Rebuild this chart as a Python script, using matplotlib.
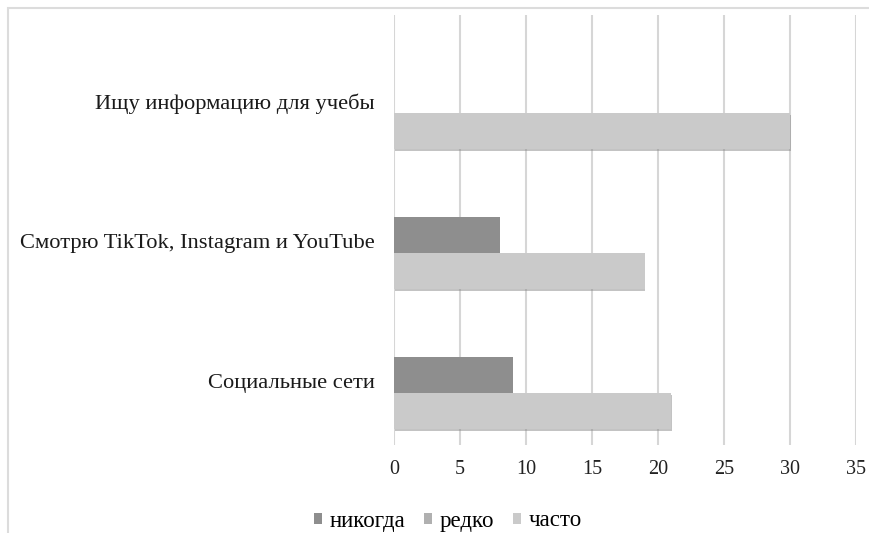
import matplotlib
matplotlib.use("Agg")
import matplotlib.pyplot as plt
from matplotlib.patches import Rectangle, Patch
import matplotlib.patheffects as pe

categories = ["Социальные сети", "Смотрю TikTok, Instagram и YouTube", "Ищу информацию для учебы"]
series_names = ["никогда", "редко", "часто"]
nikogda = [9, 8, 0]
redko = [0, 0, 0]
chasto = [21, 19, 30]
xticks = [0, 5, 10, 15, 20, 25, 30, 35]

colors = {"никогда": "#8e8e8e", "редко": "#b0b0b0", "часто": "#cacaca"}
offsets = {"редко": 0.30, "никогда": 0.043, "часто": -0.214}
values = {"никогда": nikogda, "редко": redko, "часто": chasto}

plt.rcParams['font.family'] = ['Liberation Serif', 'DejaVu Serif']

fig = plt.figure(figsize=(8.69, 5.33), dpi=100)
ax = fig.add_axes([394/869, 1-445/533, (856-394)/869, (445-15)/533])

ypos = list(range(len(categories)))
for name in series_names:
    h = ax.barh([y + offsets[name] for y in ypos], values[name], height=0.255,
                color=colors[name], edgecolor='none', zorder=3)
    for p in h.patches:
        p.set_path_effects([pe.SimplePatchShadow(offset=(0.5, -1.5), shadow_rgbFace='#888888', alpha=0.5),
                            pe.Normal()])

ax.set_xlim(0, 35)
ax.set_ylim(-0.457, 2.614)
ax.set_xticks(xticks)
ax.set_xticklabels([str(t) for t in xticks], fontsize=14.5, color='#222222')
ax.set_yticks(ypos)
ax.set_yticklabels(categories, fontsize=16.2, color='#1a1a1a')
ax.tick_params(axis='both', length=0)
ax.tick_params(axis='y', pad=14)
ax.tick_params(axis='x', pad=11)
ax.grid(axis='x', color='#d6d6d6', linewidth=1.5, zorder=0)
for s in ax.spines.values():
    s.set_visible(False)

proxies = [Patch(facecolor=colors[n], edgecolor='none') for n in series_names]
leg = fig.legend(proxies, series_names, loc='center',
                 bbox_to_anchor=(448/869, 1-521/533), ncol=3, frameon=False,
                 fontsize=16.5, handlelength=0.35, handleheight=0.35,
                 handletextpad=0.35, columnspacing=0.8)

# outer chart frame
fig.add_artist(Rectangle((8/869, -0.01), 1.0, 1-8/533 + 0.01, transform=fig.transFigure,
                         fill=False, edgecolor='#dcdcdc', linewidth=1.5))

fig.savefig("out.png", dpi=100, facecolor='white')
